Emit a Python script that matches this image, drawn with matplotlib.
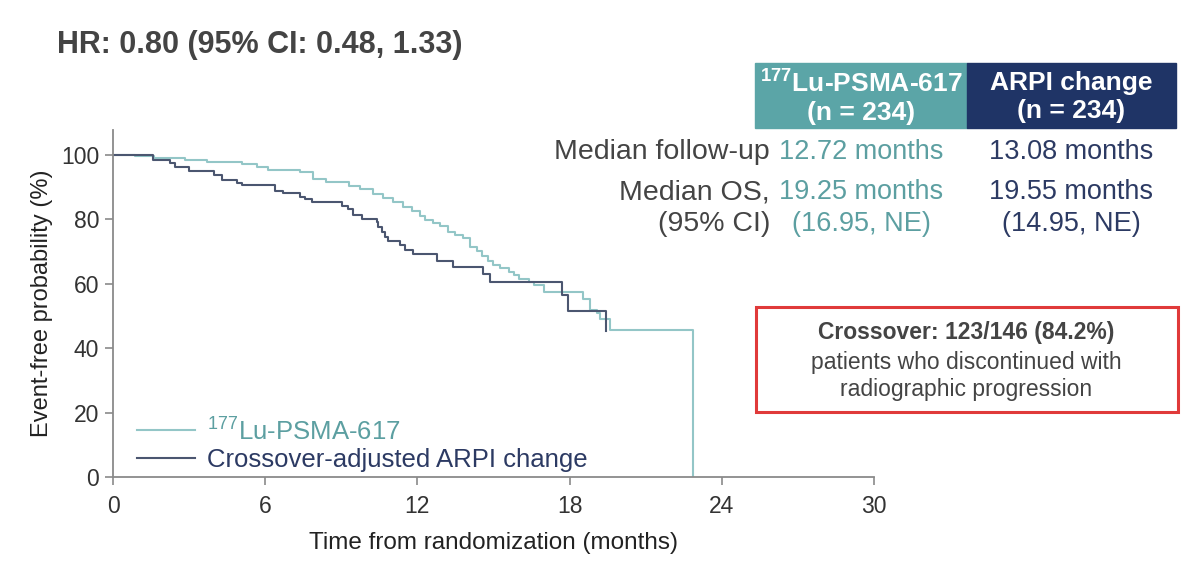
import matplotlib
matplotlib.use("Agg")
import matplotlib.pyplot as plt
from matplotlib.patches import Rectangle
from matplotlib.lines import Line2D

plt.rcParams['font.family'] = ['Liberation Sans', 'DejaVu Sans']
plt.rcParams['mathtext.fontset'] = 'custom'
plt.rcParams['mathtext.rm'] = 'Liberation Sans'
plt.rcParams['mathtext.bf'] = 'Liberation Sans:bold'

# ---- data ----
lu_time = [0, 0.87, 1.6, 2.84, 3.7, 5.07, 5.66, 6.1, 7.37, 7.9, 8.4, 9.3, 9.74, 10.26,
           10.65, 11.05, 11.45, 11.78, 12.1, 12.3, 12.6, 12.9, 13.2, 13.5, 13.8, 14.07,
           14.34, 14.54, 14.79, 15.0, 15.27, 15.6, 15.8, 16.0, 16.4, 16.6, 17.0, 18.54,
           18.8, 19.07, 19.2, 19.6, 22.87]
lu_surv = [100, 99.6, 99.2, 98.5, 97.8, 97.2, 96.2, 95.5, 94.7, 92.5, 91.5, 90.5, 89.4, 88.0,
           86.7, 85.3, 83.9, 82.6, 81.0, 79.8, 78.9, 78.0, 76.1, 75.3, 74.2, 71.5,
           70.3, 68.6, 67.1, 65.8, 64.8, 63.7, 62.7, 61.6, 60.6, 59.6, 57.5, 55.2,
           51.9, 50.8, 49.0, 45.6, 0]

arpi_time = [0, 1.56, 2.25, 2.45, 3.0, 4.0, 4.3, 4.9, 5.1, 6.39, 6.7, 7.37, 7.57, 7.83,
             9.01, 9.26, 9.47, 9.8, 10.39, 10.45, 10.59, 10.72, 10.84, 11.31, 11.5, 11.83,
             12.76, 13.41, 14.6, 14.86, 17.69, 17.95, 19.42]
arpi_surv = [100, 98.5, 97.5, 96.3, 95.2, 93.9, 92.3, 91.3, 90.6, 88.9, 88.1, 87.0, 86.3, 85.3,
             84.3, 83.2, 81.4, 80.3, 79.3, 77.7, 76.2, 74.6, 73.4, 72.0, 70.5, 69.3,
             67.2, 65.3, 63.0, 60.7, 56.5, 51.6, 45.5]

series_labels = [r"$^{177}$Lu-PSMA-617", "Crossover-adjusted ARPI change"]
x_ticks = [0, 6, 12, 18, 24, 30]
y_ticks = [0, 20, 40, 60, 80, 100]

header_labels = [r"$^{\mathbf{177}}$Lu-PSMA-617" + "\n(n = 234)", "ARPI change\n(n = 234)"]
row_labels = ["Median follow-up", "Median OS,\n(95% CI)"]
lu_values = ["12.72 months", "19.25 months\n(16.95, NE)"]
arpi_values = ["13.08 months", "19.55 months\n(14.95, NE)"]
title_text = "HR: 0.80 (95% CI: 0.48, 1.33)"
box_bold = "Crossover: 123/146 (84.2%)"
box_text = "patients who discontinued with\nradiographic progression"

# ---- colours ----
light_line = "#93c6c7"
dark_line = "#4b5670"
teal_head = "#5ba5a7"
navy_head = "#1f3466"
teal_text = "#5c9fa1"
navy_text = "#2c3a63"
gray_text = "#444444"

W, H = 1200, 565
fig = plt.figure(figsize=(12, 5.65), dpi=100)
fig.patch.set_facecolor("white")

ax = fig.add_axes([113 / W, 1 - 477 / H, (874 - 113) / W, (477 - 130) / H])
ax.step(lu_time, lu_surv, where="post", color=light_line, lw=1.5)
ax.step(arpi_time, arpi_surv, where="post", color=dark_line, lw=1.5)
ax.set_xlim(0, 30)
ax.set_ylim(0, 107.8)
ax.set_xticks(x_ticks)
ax.set_yticks(y_ticks)
for s in ["top", "right"]:
    ax.spines[s].set_visible(False)
for s in ["left", "bottom"]:
    ax.spines[s].set_color("#8a8a8a")
    ax.spines[s].set_linewidth(1.3)
ax.tick_params(axis="both", direction="out", length=6, width=1.2, color="#8a8a8a",
               labelsize=16.5, labelcolor="#333333", pad=4)
ax.tick_params(axis="x", pad=7)
ax.set_xlabel("Time from randomization (months)", fontsize=17.5, color="#222222", labelpad=10)
ax.set_ylabel("Event-free probability (%)", fontsize=17, color="#222222", labelpad=6)
ax.margins(0)

handles = [Line2D([], [], color=light_line, lw=1.5), Line2D([], [], color=dark_line, lw=1.5)]
leg = ax.legend(handles, series_labels, loc="lower left", bbox_to_anchor=(24 / 761, 0.015),
                frameon=False, fontsize=18.5, handlelength=2.26, handletextpad=0.47,
                labelspacing=0.13, borderpad=0, borderaxespad=0)
for t, c in zip(leg.get_texts(), [teal_text, navy_text]):
    t.set_color(c)

# Title
fig.text(57 / W, 1 - 45 / H, title_text, fontsize=22, fontweight="bold", color=gray_text,
         va="center", ha="left")

# Table header
fig.patches.append(Rectangle((755 / W, 1 - 128 / H), (967 - 755) / W, (128 - 63) / H,
                             transform=fig.transFigure, color=teal_head, zorder=1))
fig.patches.append(Rectangle((967 / W, 1 - 128 / H), (1176 - 967) / W, (128 - 63) / H,
                             transform=fig.transFigure, color=navy_head, zorder=1))
fig.text(861 / W, 1 - 97 / H, header_labels[0], fontsize=19, fontweight="bold", color="white",
         ha="center", va="center", linespacing=1.25)
fig.text(1071 / W, 1 - 97 / H, header_labels[1], fontsize=19, fontweight="bold", color="white",
         ha="center", va="center", linespacing=1.25)

# Rows
fs_row = 19.5
fs_lab = 20.5
fig.text(770 / W, 1 - 152 / H, row_labels[0], fontsize=fs_lab, color=gray_text, ha="right", va="center")
fig.text(770 / W, 1 - 208 / H, row_labels[1], fontsize=fs_lab, color=gray_text, ha="right", va="center",
         multialignment="right", linespacing=1.27)
fig.text(861 / W, 1 - 152 / H, lu_values[0], fontsize=fs_row, color=teal_text, ha="center", va="center")
fig.text(861 / W, 1 - 208 / H, lu_values[1], fontsize=fs_row, color=teal_text, ha="center", va="center",
         linespacing=1.33)
fig.text(1071 / W, 1 - 152 / H, arpi_values[0], fontsize=fs_row, color=navy_text, ha="center", va="center")
fig.text(1071 / W, 1 - 208 / H, arpi_values[1], fontsize=fs_row, color=navy_text, ha="center", va="center",
         linespacing=1.33)

# Red box
fig.patches.append(Rectangle((756 / W, 1 - 412 / H), (1178 - 756) / W, (412 - 307) / H,
                             transform=fig.transFigure, fill=False, edgecolor="#e03a3a",
                             linewidth=2.2, zorder=2))
fig.text(966 / W, 1 - 333 / H, box_bold, fontsize=16.5, fontweight="bold", color=gray_text,
         ha="center", va="center")
fig.text(966 / W, 1 - 376 / H, box_text, fontsize=16.5, color=gray_text, ha="center", va="center",
         linespacing=1.2)

fig.savefig("out.png", dpi=100, facecolor="white")
